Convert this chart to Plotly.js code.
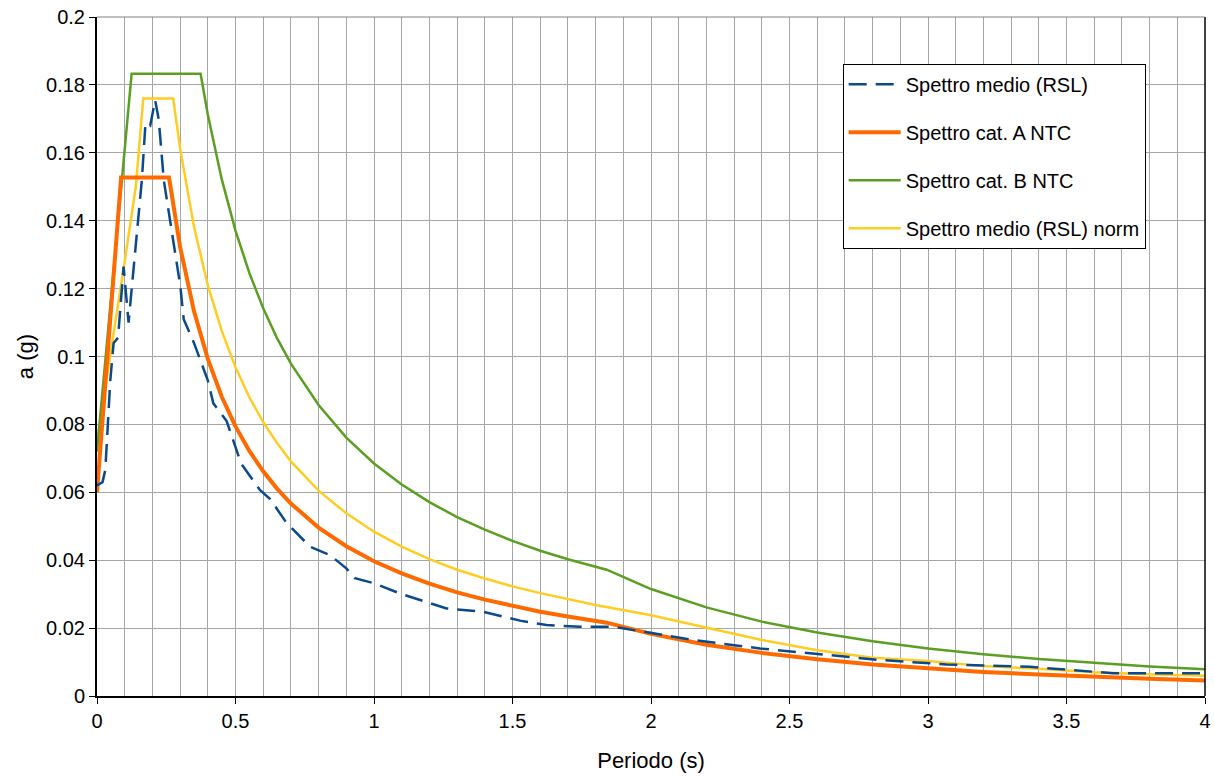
<!DOCTYPE html>
<html>
<head>
<meta charset="utf-8">
<script src="https://cdn.plot.ly/plotly-3.0.1.min.js"></script>
<style>html,body{margin:0;padding:0;background:#fff;}#chart{width:1214px;height:776px;}</style>
</head>
<body>
<div id="chart"></div>
<script>
// Spettro medio (RSL)
const rslT = [0, 0.02, 0.03, 0.048, 0.06, 0.076, 0.096, 0.114, 0.126, 0.162, 0.175, 0.192, 0.21, 0.223, 0.241, 0.271, 0.301, 0.313, 0.35, 0.40, 0.42, 0.468, 0.504, 0.52, 0.588, 0.625, 0.685, 0.745, 0.769, 0.841, 0.9, 0.931, 1.0, 1.1, 1.2, 1.262, 1.395, 1.527, 1.623, 1.744, 1.864, 1.984, 2.153, 2.393, 2.634, 2.827, 3.067, 3.368, 3.668, 4.0];
const rslA = [0.062, 0.063, 0.0666, 0.093, 0.104, 0.1055, 0.1265, 0.110, 0.1206, 0.152, 0.1687, 0.168, 0.1755, 0.1697, 0.152, 0.1363, 0.1206, 0.111, 0.104, 0.093, 0.0862, 0.081, 0.0725, 0.0685, 0.0607, 0.058, 0.0509, 0.046, 0.044, 0.0415, 0.0376, 0.0347, 0.0332, 0.030, 0.0275, 0.0258, 0.0248, 0.0222, 0.0209, 0.0204, 0.0204, 0.0187, 0.0165, 0.014, 0.0121, 0.0106, 0.0093, 0.0086, 0.0067, 0.0067];

// Spettro cat. A NTC
const catAT = [0, 0.087, 0.26, 0.3, 0.35, 0.4, 0.45, 0.5, 0.55, 0.6, 0.65, 0.7, 0.8, 0.9, 1.0, 1.1, 1.2, 1.3, 1.4, 1.5, 1.6, 1.7, 1.84, 2.0, 2.2, 2.4, 2.6, 2.8, 3.0, 3.2, 3.4, 3.6, 3.8, 4.0];
const catAA = [0.060, 0.1527, 0.1527, 0.1323, 0.1134, 0.0993, 0.0882, 0.0794, 0.0722, 0.0662, 0.0611, 0.0567, 0.0496, 0.0441, 0.0397, 0.0361, 0.0331, 0.0305, 0.0284, 0.0265, 0.0248, 0.0234, 0.0216, 0.0183, 0.0151, 0.0127, 0.0108, 0.0093, 0.0081, 0.0071, 0.0063, 0.0056, 0.0051, 0.0046];

// Spettro cat. B NTC
const catBT = [0, 0.125, 0.374, 0.4, 0.45, 0.5, 0.55, 0.6, 0.65, 0.7, 0.8, 0.9, 1.0, 1.1, 1.2, 1.3, 1.4, 1.5, 1.6, 1.7, 1.84, 2.0, 2.2, 2.4, 2.6, 2.8, 3.0, 3.2, 3.4, 3.6, 3.8, 4.0];
const catBA = [0.072, 0.1833, 0.1833, 0.1713, 0.1523, 0.1371, 0.1246, 0.1142, 0.1054, 0.0979, 0.0857, 0.0761, 0.0685, 0.0623, 0.0571, 0.0527, 0.0490, 0.0457, 0.0428, 0.0403, 0.0372, 0.0315, 0.0261, 0.0219, 0.0187, 0.0161, 0.0140, 0.0123, 0.0109, 0.0097, 0.0087, 0.0079];

// Spettro medio (RSL) norm
const normT = [0, 0.05, 0.1, 0.14, 0.167, 0.275, 0.3, 0.35, 0.4, 0.45, 0.5, 0.55, 0.6, 0.65, 0.7, 0.8, 0.9, 1.0, 1.1, 1.2, 1.3, 1.4, 1.5, 1.6, 1.7, 1.8, 2.0, 2.2, 2.4, 2.6, 2.8, 3.0, 3.2, 3.4, 3.6, 3.8, 4.0];
const normA = [0.075, 0.101, 0.128, 0.150, 0.176, 0.176, 0.1613, 0.1383, 0.1210, 0.1076, 0.0968, 0.0880, 0.0807, 0.0745, 0.0691, 0.0605, 0.0538, 0.0484, 0.0440, 0.0403, 0.0372, 0.0346, 0.0323, 0.0303, 0.0285, 0.0268, 0.0238, 0.0202, 0.0165, 0.0135, 0.0113, 0.0103, 0.0088, 0.0080, 0.0070, 0.0064, 0.0060];

const seriesNames = ["Spettro medio (RSL)", "Spettro cat. A NTC", "Spettro cat. B NTC", "Spettro medio (RSL) norm"];

const FONT = "Liberation Sans, Arial, sans-serif";

const traces = [
  {x: normT, y: normA, name: seriesNames[3], legendrank: 4, legendgroup: "d", mode: "lines",
   line: {color: "#ffcc22", width: 2.5}},
  {x: catBT, y: catBA, name: seriesNames[2], legendrank: 3, legendgroup: "c", mode: "lines",
   line: {color: "#5a9e22", width: 2.5}},
  {x: catAT, y: catAA, name: seriesNames[1], legendrank: 2, legendgroup: "b", mode: "lines",
   line: {color: "#ff6a00", width: 4}},
  {x: rslT, y: rslA, name: seriesNames[0], legendrank: 1, legendgroup: "a", mode: "lines",
   line: {color: "#0b4a8a", width: 2.5, dash: "18px,9px"}}
];

const layout = {
  width: 1214, height: 776,
  margin: {l: 97, r: 9, t: 17, b: 80},
  paper_bgcolor: "#ffffff", plot_bgcolor: "#ffffff",
  font: {family: FONT, size: 20, color: "#000"},
  showlegend: true,
  legend: {
    x: 0.673, y: 0.931, xanchor: "left", yanchor: "top",
    bgcolor: "#ffffff", bordercolor: "#000", borderwidth: 1,
    font: {family: FONT, size: 20, color: "#000"},
    traceorder: "grouped", tracegroupgap: 19, itemwidth: 52
  },
  xaxis: {
    range: [0, 4], dtick: 0.5, tick0: 0,
    showgrid: true, gridcolor: "#a6a6a6", gridwidth: 1,
    minor: {dtick: 0.1, showgrid: true, gridcolor: "#a6a6a6", gridwidth: 1},
    showline: true, linecolor: "#000", linewidth: 2,
    ticks: "outside", ticklen: 6, tickcolor: "#000", tickwidth: 1,
    zeroline: false,
    tickfont: {family: FONT, size: 20, color: "#000"},
    title: {text: "Periodo (s)", font: {family: FONT, size: 22, color: "#000"}, standoff: 22}
  },
  yaxis: {
    range: [0, 0.2], dtick: 0.02, tick0: 0,
    showgrid: true, gridcolor: "#a6a6a6", gridwidth: 1,
    showline: true, linecolor: "#000", linewidth: 2,
    ticks: "outside", ticklen: 6, tickcolor: "#000", tickwidth: 1,
    zeroline: false,
    tickfont: {family: FONT, size: 20, color: "#000"},
    title: {text: "a (g)", font: {family: FONT, size: 22, color: "#000"}, standoff: 6}
  },
  shapes: [
    {type: "line", xref: "paper", yref: "paper", x0: 1, x1: 1, y0: 0, y1: 1, line: {color: "#000", width: 1.5}},
    {type: "line", xref: "paper", yref: "paper", x0: 0, x1: 1, y0: 1, y1: 1, line: {color: "#808080", width: 1}}
  ]
};

Plotly.newPlot("chart", traces, layout, {displayModeBar: false, staticPlot: true});
</script>
</body>
</html>
